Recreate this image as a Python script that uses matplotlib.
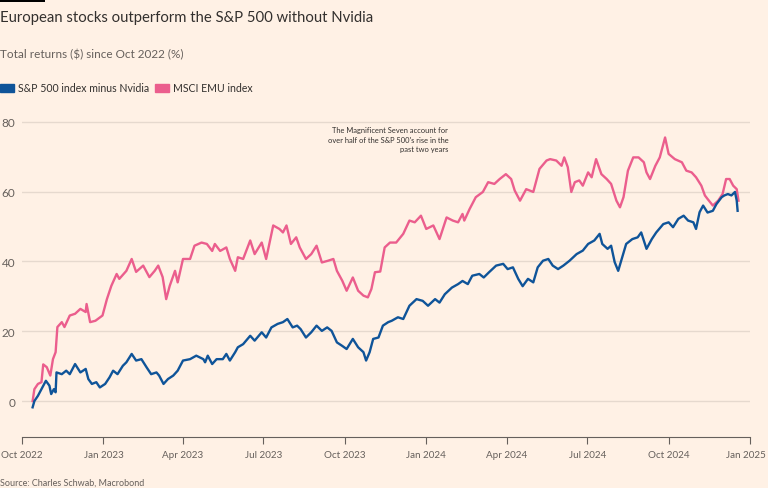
import matplotlib
matplotlib.use("Agg")
from matplotlib import pyplot as plt
from matplotlib.patches import Patch, Rectangle
from matplotlib.transforms import ScaledTranslation
import matplotlib.dates as mdates
import pandas as pd

plt.rcParams['font.family'] = ['Lato', 'DejaVu Sans']

# MSCI EMU index, total return ($) since Oct 2022 (%)
emu_dates = ['2022-10-13', '2022-10-15', '2022-10-19', '2022-10-23', '2022-10-25', '2022-10-29',
             '2022-11-02', '2022-11-05', '2022-11-08', '2022-11-10', '2022-11-15', '2022-11-18',
             '2022-11-24', '2022-11-30', '2022-12-06', '2022-12-12', '2022-12-13', '2022-12-17',
             '2022-12-23', '2022-12-31', '2023-01-05', '2023-01-10', '2023-01-16', '2023-01-19',
             '2023-01-27', '2023-02-02', '2023-02-07', '2023-02-15', '2023-02-22', '2023-02-28',
             '2023-03-04', '2023-03-09', '2023-03-13', '2023-03-17', '2023-03-23', '2023-03-26',
             '2023-04-01', '2023-04-09', '2023-04-14', '2023-04-22', '2023-04-28', '2023-05-04',
             '2023-05-07', '2023-05-13', '2023-05-20', '2023-05-24', '2023-05-30', '2023-06-02',
             '2023-06-08', '2023-06-16', '2023-06-21', '2023-06-29', '2023-07-04', '2023-07-12',
             '2023-07-19', '2023-07-23', '2023-07-27', '2023-08-01', '2023-08-07', '2023-08-11',
             '2023-08-18', '2023-08-24', '2023-08-30', '2023-09-05', '2023-09-12', '2023-09-18',
             '2023-09-22', '2023-09-28', '2023-10-03', '2023-10-10', '2023-10-16', '2023-10-22',
             '2023-10-27', '2023-10-31', '2023-11-04', '2023-11-10', '2023-11-15', '2023-11-21',
             '2023-11-28', '2023-12-06', '2023-12-13', '2023-12-19', '2023-12-26', '2024-01-01',
             '2024-01-09', '2024-01-16', '2024-01-24', '2024-01-31', '2024-02-06', '2024-02-11',
             '2024-02-13', '2024-02-19', '2024-02-26', '2024-03-05', '2024-03-11', '2024-03-18',
             '2024-03-24', '2024-03-31', '2024-04-06', '2024-04-10', '2024-04-16', '2024-04-23',
             '2024-05-01', '2024-05-08', '2024-05-16', '2024-05-20', '2024-05-27', '2024-06-02',
             '2024-06-05', '2024-06-09', '2024-06-13', '2024-06-17', '2024-06-22', '2024-06-26',
             '2024-07-02', '2024-07-06', '2024-07-11', '2024-07-17', '2024-07-23', '2024-07-28',
             '2024-08-03', '2024-08-07', '2024-08-11', '2024-08-16', '2024-08-22', '2024-08-28',
             '2024-09-03', '2024-09-06', '2024-09-10', '2024-09-16', '2024-09-21', '2024-09-27',
             '2024-10-01', '2024-10-08', '2024-10-16', '2024-10-21', '2024-10-27', '2024-11-01',
             '2024-11-07', '2024-11-11', '2024-11-14', '2024-11-20', '2024-11-26', '2024-12-01',
             '2024-12-05', '2024-12-09', '2024-12-13', '2024-12-17', '2024-12-19']
emu_vals = [0, 3.4, 4.9, 5.4, 10.5, 9.7,
            7.3, 12, 14, 21.2, 22.6, 21.2,
            24.5, 25, 26.4, 25.5, 27.8, 22.6,
            23, 24.5, 29.2, 33, 36.4, 35,
            37.3, 40.7, 37, 38.8, 35.5, 37.3,
            38.8, 35.5, 29.2, 33, 37.3, 34,
            40.7, 40.7, 44.5, 45.4, 45, 43,
            45, 43, 44, 40.7, 37.3, 41.2,
            40.7, 46, 42.1, 45.4, 40.7, 50.3,
            49.3, 48.3, 50.3, 45, 46.9, 44,
            40.7, 42.1, 44.5, 39.7, 40.2, 40.7,
            37.3, 34.5, 31.6, 35.4, 31.6, 30.2,
            29.7, 32.1, 36.9, 37.1, 44, 45.4,
            45.4, 47.9, 51.7, 51.2, 53.1, 49.3,
            50.3, 46.4, 52.6, 51.7, 51.2, 53.6,
            51.7, 55, 58.4, 59.9, 62.7, 62.2,
            63.6, 65, 63.6, 60.3, 57.4, 60.7,
            59.9, 66.5, 68.9, 69.3, 68.9, 67.4,
            69.8, 67, 59.9, 62.7, 63.2, 61.7,
            65.5, 64.1, 69.3, 65, 63.6, 62.2,
            57.4, 55.5, 58.4, 66, 69.8, 69.8,
            68.4, 65.5, 63.6, 67.4, 69.8, 75.5,
            70.8, 69.3, 68.4, 66, 65.5, 64.1,
            61.7, 58.9, 57.9, 56, 57.4, 59.3,
            63.6, 63.6, 61.7, 60.7, 57.4]

# S&P 500 index minus Nvidia
spx_dates = ['2022-10-13', '2022-10-15', '2022-10-19', '2022-10-23', '2022-10-28', '2022-11-01',
             '2022-11-03', '2022-11-06', '2022-11-08', '2022-11-09', '2022-11-15', '2022-11-20',
             '2022-11-24', '2022-11-30', '2022-12-06', '2022-12-12', '2022-12-15', '2022-12-19',
             '2022-12-24', '2022-12-28', '2023-01-03', '2023-01-08', '2023-01-12', '2023-01-17',
             '2023-01-23', '2023-01-27', '2023-02-02', '2023-02-07', '2023-02-13', '2023-02-19',
             '2023-02-24', '2023-03-02', '2023-03-05', '2023-03-10', '2023-03-15', '2023-03-21',
             '2023-03-26', '2023-04-01', '2023-04-09', '2023-04-16', '2023-04-24', '2023-04-26',
             '2023-04-29', '2023-05-04', '2023-05-09', '2023-05-16', '2023-05-20', '2023-05-24',
             '2023-05-30', '2023-06-02', '2023-06-08', '2023-06-16', '2023-06-21', '2023-06-29',
             '2023-07-04', '2023-07-10', '2023-07-17', '2023-07-23', '2023-07-28', '2023-08-03',
             '2023-08-08', '2023-08-12', '2023-08-18', '2023-08-24', '2023-08-30', '2023-09-05',
             '2023-09-11', '2023-09-16', '2023-09-22', '2023-09-28', '2023-10-03', '2023-10-10',
             '2023-10-16', '2023-10-22', '2023-10-25', '2023-10-29', '2023-11-02', '2023-11-08',
             '2023-11-13', '2023-11-19', '2023-11-23', '2023-11-30', '2023-12-06', '2023-12-13',
             '2023-12-21', '2023-12-28', '2024-01-03', '2024-01-11', '2024-01-16', '2024-01-22',
             '2024-01-30', '2024-02-06', '2024-02-11', '2024-02-17', '2024-02-22', '2024-03-01',
             '2024-03-06', '2024-03-12', '2024-03-20', '2024-03-28', '2024-04-02', '2024-04-08',
             '2024-04-14', '2024-04-19', '2024-04-25', '2024-05-01', '2024-05-06', '2024-05-12',
             '2024-05-18', '2024-05-23', '2024-05-29', '2024-06-04', '2024-06-11', '2024-06-19',
             '2024-06-26', '2024-07-02', '2024-07-09', '2024-07-15', '2024-07-18', '2024-07-24',
             '2024-07-28', '2024-08-01', '2024-08-05', '2024-08-09', '2024-08-14', '2024-08-21',
             '2024-08-27', '2024-08-31', '2024-09-06', '2024-09-12', '2024-09-17', '2024-09-25',
             '2024-10-01', '2024-10-06', '2024-10-12', '2024-10-18', '2024-10-23', '2024-10-29',
             '2024-11-01', '2024-11-05', '2024-11-09', '2024-11-14', '2024-11-20', '2024-11-24',
             '2024-11-30', '2024-12-03', '2024-12-07', '2024-12-11', '2024-12-15', '2024-12-17',
             '2024-12-18']
spx_vals = [-1.8, 0, 1.5, 3.4, 5.8, 4.4,
            2, 3.4, 2.5, 8.2, 7.7, 8.7,
            7.7, 10.6, 8.2, 9.2, 6.3, 4.9,
            5.4, 3.9, 4.9, 6.8, 8.7, 7.7,
            10.1, 11.1, 13.5, 11.6, 12, 9.6,
            7.7, 8.2, 7.3, 4.9, 6.3, 7.3,
            8.7, 11.6, 12, 13, 12, 11.1,
            13, 10.6, 12, 12, 13.5, 11.6,
            14, 15.4, 16.3, 18.7, 17.3, 19.7,
            18.2, 21.1, 22.1, 22.6, 23.5, 21.1,
            21.6, 20.6, 18.2, 19.7, 21.6, 20.1,
            21.1, 20.1, 16.8, 15.8, 14.9, 17.8,
            15.4, 14, 11.6, 14, 17.8, 18.2,
            21.6, 22.6, 23, 24, 23.5, 27.3,
            29.2, 28.7, 27.3, 29.2, 28.2, 30.6,
            32.5, 33.5, 34.4, 33.5, 35.9, 36.4,
            35.4, 36.9, 38.8, 39.3, 37.8, 38.3,
            35, 32.9, 35, 34, 38.3, 40.2,
            40.7, 38.8, 37.8, 38.8, 40.2, 42.1,
            43.1, 45, 46, 47.9, 45, 43.6,
            44.5, 39.8, 37.3, 40.7, 45, 46.4,
            46.9, 48.3, 43.6, 46.4, 48.3, 50.7,
            51.2, 49.8, 52.2, 53.1, 51.7, 51.2,
            49.3, 54.1, 56, 54, 54.5, 56.4,
            58.4, 58.9, 59.3, 58.9, 59.9, 57.4,
            54.5]

series_names = ['S&P 500 index minus Nvidia', 'MSCI EMU index']
y_ticks = [0, 20, 40, 60, 80]

bg = '#FFF1E5'
blue = '#0F5499'
pink = '#EB5E8D'
text_col = '#33302E'
grey = '#66605C'
grid_col = '#E6D9CE'

fig = plt.figure(figsize=(7.68, 4.89), dpi=100, facecolor=bg)
ax = fig.add_axes([22/768, 1 - 438/489, 728/768, (438 - 115.8)/489])
ax.set_facecolor(bg)

ax.plot(pd.to_datetime(emu_dates), emu_vals, color=pink, lw=1.7, solid_joinstyle='round')
ax.plot(pd.to_datetime(spx_dates), spx_vals, color=blue, lw=1.7, solid_joinstyle='round')

ax.set_xlim(pd.Timestamp('2022-10-01'), pd.Timestamp('2025-01-01'))
ax.set_ylim(-10.3, 82)
ax.set_yticks(y_ticks)
ax.yaxis.grid(True, color=grid_col, lw=1)
ax.set_axisbelow(True)
ax.tick_params(axis='y', length=0, pad=5, labelsize=8.5, labelcolor=grey)
ax.tick_params(axis='x', length=5, width=0.8, color=grey, pad=4, labelsize=7.1, labelcolor=grey)

ax.xaxis.set_major_locator(mdates.MonthLocator(bymonth=[1, 4, 7, 10]))
ax.xaxis.set_major_formatter(mdates.DateFormatter('%b %Y'))

for s in ['top', 'right', 'left']:
    ax.spines[s].set_visible(False)
ax.spines['bottom'].set_color(grey)
ax.spines['bottom'].set_linewidth(0.8)

# keep the last date label inside the picture
fig.canvas.draw()
last = ax.get_xticklabels()[-1]
last.set_transform(last.get_transform() + ScaledTranslation(-4/100, 0, fig.dpi_scale_trans))

ax.text(pd.Timestamp('2024-01-26'), 78.8,
        "The Magnificent Seven account for\nover half of the S&P 500's rise in the\npast two years",
        ha='right', va='top', fontsize=5.4, color=text_col, linespacing=1.45)

# FT style bar top left
fig.patches.append(Rectangle((0, 1 - 3/489), 45/768, 3/489, transform=fig.transFigure,
                             color='black', lw=0))

fig.text(0, 1 - 18/489, 'European stocks outperform the S&P 500 without Nvidia',
         fontsize=10.7, color=text_col, va='center', ha='left')
fig.text(0, 1 - 55/489, r'Total returns (\$) since Oct 2022 (%)',
         fontsize=8.5, color=grey, va='center', ha='left')
fig.text(0, 1 - 483/489, 'Source: Charles Schwab, Macrobond',
         fontsize=6.5, color=grey, va='center', ha='left')

handles = [Patch(color=blue, label=series_names[0]), Patch(color=pink, label=series_names[1])]
fig.legend(handles=handles, loc='center left', bbox_to_anchor=(0, 1 - 89/489), ncol=2,
           frameon=False, fontsize=7.6, handlelength=1.3, handleheight=0.7,
           handletextpad=0.4, columnspacing=0.6, borderpad=0, borderaxespad=0,
           labelcolor=text_col)

fig.savefig('out.png', dpi=100, facecolor=bg)
